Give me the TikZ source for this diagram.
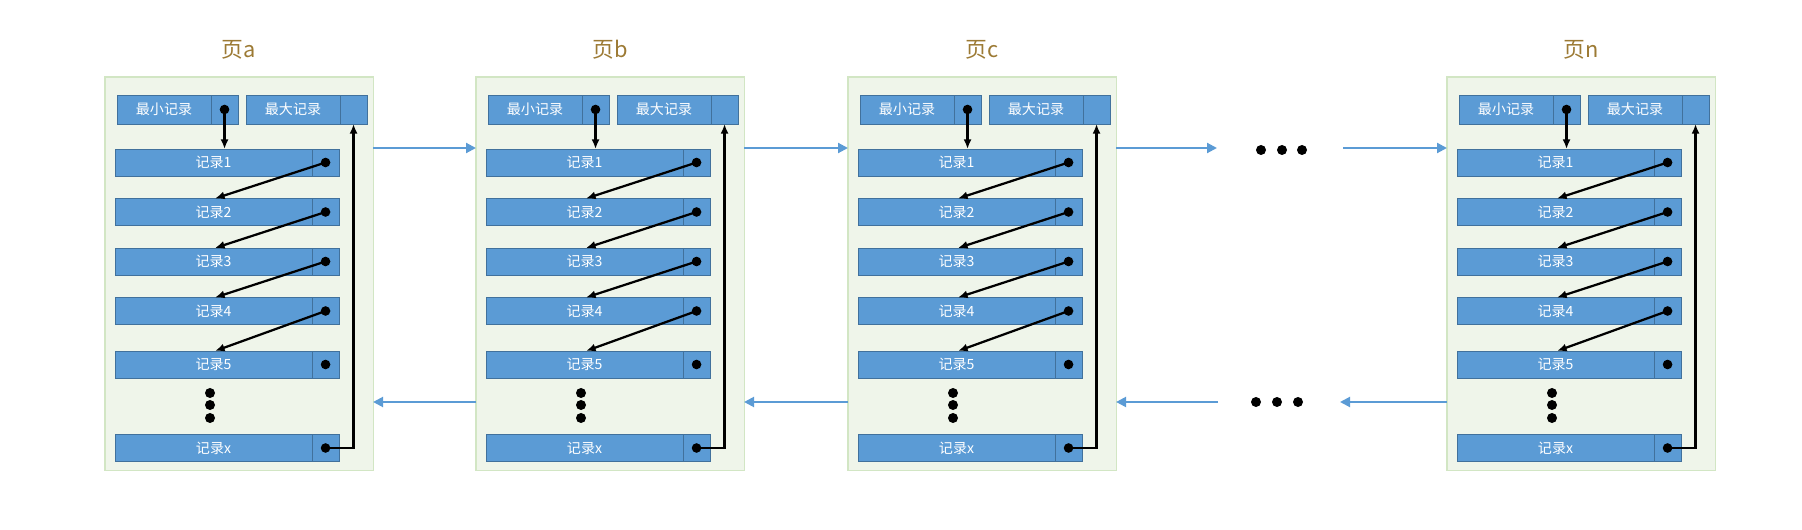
\documentclass[tikz,border=0pt]{standalone}
\usepackage{fontspec}
\setmainfont{Noto Sans CJK SC}
\usetikzlibrary{arrows.meta,positioning}
\definecolor{recblue}{HTML}{5B9BD5}
\definecolor{recline}{HTML}{41719C}
\definecolor{pagefill}{HTML}{EFF5EA}
\definecolor{pageline}{HTML}{D2E6C4}
\definecolor{titlegold}{HTML}{9C7A34}
\tikzstyle{page}=[draw=pageline,fill=pagefill,thick,minimum width=6.7cm,minimum height=9.825cm,inner sep=0pt,outer sep=0pt]
\tikzstyle{rec}=[draw=recline,fill=recblue,text=white,font=\fontsize{10}{12}\selectfont,minimum width=4.925cm,minimum height=0.675cm,inner sep=0pt,outer sep=0pt]
\tikzstyle{head}=[rec,minimum width=2.35cm,minimum height=0.725cm]
\tikzstyle{ptr}=[draw=recline,fill=recblue,minimum width=0.675cm,inner sep=0pt,outer sep=0pt]
\tikzstyle{link}=[line width=1.6pt,-{Latex[length=2.4mm,width=2mm]}]
\tikzstyle{flow}=[recblue,line width=1.5pt,-{Triangle[length=2.5mm,width=2.5mm]}]
\tikzstyle{title}=[text=titlegold,font=\fontsize{15.5}{18}\selectfont]

\begin{document}
\begin{tikzpicture}[x=0.025cm,y=-0.025cm]
  \useasboundingbox (0,0) rectangle (1802,530);
  \coordinate (top) at (0,148);
  \coordinate (bot) at (0,402);
  % pages
  \foreach \p/\x in {a/105,b/476,c/848,n/1447}{
    \node[page,anchor=north west] (\p) at (\x,77) {};
    \node[title] (\p-title) at (\x+134,50) {页\p};
    \node[head,anchor=west] (\p-min) at (\x+12,109.5) {最小记录};
    \node[ptr,minimum height=0.725cm,right=0pt of \p-min] (\p-minp) {};
    \node[head,anchor=west] (\p-max) at (\x+141,109.5) {最大记录};
    \node[ptr,minimum height=0.725cm,right=0pt of \p-max] (\p-maxp) {};
    \foreach \i/\y in {1/162.5,2/212,3/261.5,4/311,5/364.5,x/448}{
      \node[rec,anchor=west] (\p-r\i) at (\x+10,\y) {记录\i};
      \node[ptr,minimum height=0.675cm,right=0pt of \p-r\i] (\p-p\i) {};
      \fill (\p-p\i) circle (0.12cm);
    }
    \foreach \d in {393,405,418}
      \fill (\x+105,\d) circle (0.125cm);
    \fill (\p-minp) circle (0.12cm);
    \draw[link] (\p-minp.center) -- (\p-minp.center |- \p-r1.north);
    \foreach \i/\j in {1/2,2/3,3/4,4/5}
      \draw[link] (\p-p\i.center) -- ([xshift=2.5cm]\p-r\j.north west);
    \draw[link] (\p-px.center) -| (\p-maxp.south);
  }
  % links between pages
  \coordinate (cn-l) at (1217,148);
  \coordinate (cn-r) at (1343,148);
  \coordinate (nc-l) at (1218,402);
  \coordinate (nc-r) at (1340,402);
  \draw[flow] (a.east |- top) -- (b.west |- top);
  \draw[flow] (b.east |- top) -- (c.west |- top);
  \draw[flow] (c.east |- top) -- (cn-l);
  \draw[flow] (cn-r) -- (n.west |- top);
  \draw[flow] (b.west |- bot) -- (a.east |- bot);
  \draw[flow] (c.west |- bot) -- (b.east |- bot);
  \draw[flow] (nc-l) -- (c.east |- bot);
  \draw[flow] (n.west |- bot) -- (nc-r);
  \foreach \d in {1261,1282,1302}
    \fill (\d,150) circle (0.125cm);
  \foreach \d in {1256,1277,1298}
    \fill (\d,402) circle (0.125cm);
\end{tikzpicture}
\end{document}
